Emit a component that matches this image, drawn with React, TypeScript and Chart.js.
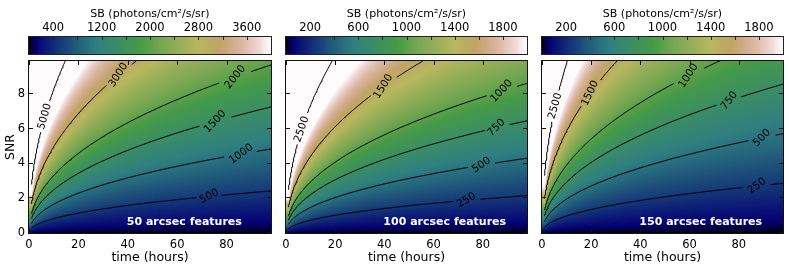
import React, { useEffect, useRef } from 'react';
import { Chart, registerables } from 'chart.js';

Chart.register(...registerables);
Chart.defaults.font.family = "'DejaVu Sans', sans-serif";
Chart.defaults.color = '#000';

// ---- data ----
const TIME_HOURS: number[] = Array.from({ length: 98 }, (_, i) => i + 1);
const SNR_GRID: number[] = Array.from({ length: 100 }, (_, i) => Math.round(i) / 10);
const TIME_EXPONENT = 0.47; // SB ~ SNR / t^0.47
const X_MAX = 98;
const Y_MAX = 9.9;

const FEATURE_LABELS = ['50 arcsec features', '100 arcsec features', '150 arcsec features'];
const SB_AT_UNIT = [1784, 1002, 755]; // SB at SNR = 1, t = 1 h
const SB_MAX = [4000, 2000, 2000];

const LEVELS_50 = [500, 1000, 1500, 2000, 3000, 5000];
const LEVELS_100 = [250, 500, 750, 1000, 1500, 2500];
const LEVELS_150 = [250, 500, 750, 1000, 1500, 2500];
const LABEL_T_50 = [73, 85.9, 75.4, 83.6, 36.2, 6.4];
const LABEL_T_100 = [73.4, 79.5, 85.6, 87.7, 39.6, 6.4];
const LABEL_T_150 = [87.4, 89.4, 76.2, 59.6, 19.6, 5.4];

const CB_LABELS_50 = [400, 1200, 2000, 2800, 3600];
const CB_MARKS_50 = [400, 800, 1200, 1600, 2000, 2400, 2800, 3200, 3600];
const CB_LABELS_100 = [200, 600, 1000, 1400, 1800];
const CB_MARKS_100 = [200, 400, 600, 800, 1000, 1200, 1400, 1600, 1800];

const X_TICKS = [0, 20, 40, 60, 80];
const Y_TICKS = [0, 2, 4, 6, 8];

// label text rotation (degrees, style)
const LABEL_ROT_50 = [27, 36, 47, 52, 57, 74];
const LABEL_ROT_100 = [31, 34, 45, 47, 58, 71];
const LABEL_ROT_150 = [36, 45, 51, 57, 65, 74];

const PANELS = [
  { levels: LEVELS_50, labelT: LABEL_T_50, rot: LABEL_ROT_50, cbLabels: CB_LABELS_50, cbMarks: CB_MARKS_50 },
  { levels: LEVELS_100, labelT: LABEL_T_100, rot: LABEL_ROT_100, cbLabels: CB_LABELS_100, cbMarks: CB_MARKS_100 },
  { levels: LEVELS_150, labelT: LABEL_T_150, rot: LABEL_ROT_150, cbLabels: CB_LABELS_100, cbMarks: CB_MARKS_100 },
];

// layout (pixels)
const CANVAS_LEFT = [0, 276, 531];
const CANVAS_W = [275, 255, 258];
const YAXIS_W = [29, 10, 11];
const PAD_RIGHT = [4, 4, 6];

// ---- gist_earth colormap ----
const GE_R = [[0, 0], [0.2824, 0.1882], [0.4588, 0.2714], [0.549, 0.4719], [0.698, 0.7176], [0.7882, 0.7553], [1, 0.9922]];
const GE_G = [[0, 0], [0.0275, 0], [0.1098, 0.1893], [0.1647, 0.3035], [0.2078, 0.3841], [0.2824, 0.502], [0.5216, 0.6397],
  [0.698, 0.7171], [0.7882, 0.6392], [0.7922, 0.6413], [0.8, 0.6447], [0.8078, 0.6481], [0.8157, 0.6549], [0.8667, 0.6991],
  [0.8745, 0.7103], [0.8824, 0.7216], [0.8902, 0.7323], [0.898, 0.743], [0.9412, 0.8275], [0.9569, 0.8635], [0.9647, 0.8816],
  [0.9961, 0.9733], [1, 0.9843]];
const GE_B = [[0, 0], [0.0039, 0.1684], [0.0078, 0.2212], [0.0275, 0.4329], [0.0314, 0.4549], [0.2824, 0.5004], [0.4667, 0.2748],
  [0.5451, 0.3205], [0.7843, 0.3961], [0.8941, 0.6651], [1, 0.9843]];

function segInterp(tab: number[][], x: number): number {
  for (let i = 1; i < tab.length; i++) {
    if (x <= tab[i][0]) {
      const [x0, y0] = tab[i - 1];
      const [x1, y1] = tab[i];
      return y0 + ((x - x0) / (x1 - x0)) * (y1 - y0);
    }
  }
  return tab[tab.length - 1][1];
}
const LUT: number[][] = Array.from({ length: 256 }, (_, i) => {
  const x = i / 255;
  return [segInterp(GE_R, x) * 255, segInterp(GE_G, x) * 255, segInterp(GE_B, x) * 255].map(Math.round);
});
function cmap(f: number): number[] {
  const k = Math.max(0, Math.min(255, Math.floor(f * 256)));
  return LUT[Math.min(255, k)];
}

// ---- helpers ----
function snrOn(level: number, t: number, c: number) {
  return (level * Math.pow(t, TIME_EXPONENT)) / c;
}

function contourPoints(level: number, c: number) {
  const tTop = Math.pow((Y_MAX * c) / level, 1 / TIME_EXPONENT);
  const tEnd = Math.min(X_MAX, tTop);
  const ts = new Set<number>([TIME_HOURS[0], tEnd]);
  TIME_HOURS.forEach((t) => { if (t > TIME_HOURS[0] && t < tEnd) ts.add(t); });
  SNR_GRID.forEach((s) => {
    const t = Math.pow((s * c) / level, 1 / TIME_EXPONENT);
    if (t > TIME_HOURS[0] && t < tEnd) ts.add(t);
  });
  return [...ts].sort((a, b) => a - b).map((t) => ({ x: t, y: snrOn(level, t, c) }));
}

const LABEL_FONT = "10.5px 'DejaVu Sans', sans-serif";

function labelCenter(chart: any, level: number, tL: number, c: number) {
  const xs = chart.scales.x, ys = chart.scales.y;
  return { x: xs.getPixelForValue(tL), y: ys.getPixelForValue(snrOn(level, tL, c)) };
}

function makeConfig(pi: number): any {
  const panel = PANELS[pi];
  const c = SB_AT_UNIT[pi];
  const vmax = SB_MAX[pi];
  const grid = SNR_GRID.map((s) => TIME_HOURS.map((t) => (c * s) / Math.pow(t, TIME_EXPONENT)));

  const datasets = panel.levels.map((level, di) => ({
    data: contourPoints(level, c),
    xAxisID: 'x',
    yAxisID: 'y',
    showLine: true,
    pointRadius: 0,
    borderWidth: 1,
    borderColor: '#000',
    fill: false,
    tension: 0,
    segment: {
      borderColor: (sc: any) => {
        const g = labelCenter(sc.chart, level, panel.labelT[di], c);
        const mx = (sc.p0.x + sc.p1.x) / 2, my = (sc.p0.y + sc.p1.y) / 2;
        const half = (String(level).length * 6.6) / 2 + 3;
        return Math.hypot(mx - g.x, my - g.y) < half ? 'rgba(0,0,0,0)' : '#000';
      },
    },
  }));

  const plugin = {
    id: 'panelDecor' + pi,
    beforeDatasetsDraw(chart: any) {
      const { ctx, chartArea: a, scales } = chart;
      const xs = scales.x, ys = scales.y, cb = scales.cb;
      // heatmap
      const L = Math.round(a.left), T = Math.round(a.top);
      const W = Math.round(a.right) - L, H = Math.round(a.bottom) - T;
      const off = document.createElement('canvas');
      off.width = W; off.height = H;
      const octx = off.getContext('2d')!;
      const img = octx.createImageData(W, H);
      const nI = SNR_GRID.length - 1, nJ = TIME_HOURS.length - 1;
      for (let py = 0; py < H; py++) {
        const snr = ys.getValueForPixel(T + py + 0.5);
        const fi = Math.max(0, Math.min(nI, snr / 0.1));
        const i0 = Math.floor(fi), i1 = Math.min(nI, i0 + 1), wi = fi - i0;
        for (let px = 0; px < W; px++) {
          const t = xs.getValueForPixel(L + px + 0.5);
          const fj = Math.max(0, Math.min(nJ, t - TIME_HOURS[0]));
          const j0 = Math.floor(fj), j1 = Math.min(nJ, j0 + 1), wj = fj - j0;
          const v = (1 - wi) * ((1 - wj) * grid[i0][j0] + wj * grid[i0][j1]) + wi * ((1 - wj) * grid[i1][j0] + wj * grid[i1][j1]);
          const col = cmap(v / vmax);
          const k = (py * W + px) * 4;
          img.data[k] = col[0]; img.data[k + 1] = col[1]; img.data[k + 2] = col[2]; img.data[k + 3] = 255;
        }
      }
      octx.putImageData(img, 0, 0);
      ctx.drawImage(off, L, T);

      // colorbar
      const cbTop = 37, cbH = 17;
      const cL = Math.round(cb.left), cR = Math.round(cb.right);
      for (let x = cL; x < cR; x++) {
        const v = cb.getValueForPixel(x + 0.5);
        const col = cmap(v / vmax);
        ctx.fillStyle = `rgb(${col[0]},${col[1]},${col[2]})`;
        ctx.fillRect(x, cbTop, 1, cbH);
      }
      ctx.save();
      ctx.strokeStyle = '#222';
      ctx.lineWidth = 1;
      ctx.strokeRect(cL - 0.5, cbTop - 0.5, cR - cL + 1, cbH + 1);
      ctx.beginPath();
      panel.cbMarks.forEach((v) => {
        const x = Math.round(cb.getPixelForValue(v)) + 0.5;
        ctx.moveTo(x, cbTop); ctx.lineTo(x, cbTop + 3);
      });
      ctx.stroke();
      ctx.fillStyle = '#000';
      ctx.font = "11.5px 'DejaVu Sans', sans-serif";
      ctx.textAlign = 'center';
      ctx.textBaseline = 'middle';
      panel.cbLabels.forEach((v) => ctx.fillText(String(v), cb.getPixelForValue(v), 28));
      ctx.font = "11px 'DejaVu Sans', sans-serif";
      ctx.fillText('SB (photons/cm²/s/sr)', (cL + cR) / 2, 14);
      ctx.restore();
    },
    afterDatasetsDraw(chart: any) {
      const { ctx, chartArea: a, scales } = chart;
      const xs = scales.x, ys = scales.y;
      ctx.save();
      // contour labels
      ctx.font = LABEL_FONT;
      ctx.fillStyle = '#000';
      ctx.textAlign = 'center';
      ctx.textBaseline = 'middle';
      panel.levels.forEach((level, di) => {
        const g = labelCenter(chart, level, panel.labelT[di], c);
        ctx.save();
        ctx.translate(g.x, g.y);
        ctx.rotate((-panel.rot[di] * Math.PI) / 180);
        ctx.fillText(String(level), 0, 0);
        ctx.restore();
      });
      // feature text
      ctx.font = "bold 11px 'DejaVu Sans', sans-serif";
      ctx.fillStyle = '#fff';
      ctx.textAlign = 'left';
      ctx.textBaseline = 'alphabetic';
      ctx.fillText(FEATURE_LABELS[pi], xs.getPixelForValue(40) - 1, ys.getPixelForValue(0.45));
      // frame
      ctx.strokeStyle = '#111';
      ctx.lineWidth = 1;
      const L = Math.round(a.left), T = Math.round(a.top), R = Math.round(a.right), B = Math.round(a.bottom);
      ctx.strokeRect(L - 0.5, T - 0.5, R - L + 1, B - T + 1);
      // inward ticks
      ctx.beginPath();
      X_TICKS.forEach((v) => {
        const x = Math.round(xs.getPixelForValue(v)) + 0.5;
        ctx.moveTo(x, B); ctx.lineTo(x, B - 4);
        ctx.moveTo(x, T); ctx.lineTo(x, T + 4);
      });
      Y_TICKS.forEach((v) => {
        const y = Math.round(ys.getPixelForValue(v)) - 0.5;
        ctx.moveTo(L, y); ctx.lineTo(L + 4, y);
        ctx.moveTo(R, y); ctx.lineTo(R - 4, y);
      });
      ctx.stroke();
      ctx.restore();
    },
  };

  return {
    type: 'scatter',
    data: { datasets },
    options: {
      responsive: false,
      animation: false,
      events: [],
      layout: { padding: { top: 61, right: PAD_RIGHT[pi], left: 0, bottom: 0 } },
      plugins: { legend: { display: false }, tooltip: { enabled: false } },
      scales: {
        x: {
          type: 'linear', position: 'bottom', min: 0, max: X_MAX,
          grid: { display: false, drawTicks: false }, border: { display: false },
          ticks: { color: '#000', font: { size: 11.5 }, padding: 5, maxRotation: 0 },
          afterBuildTicks: (s: any) => { s.ticks = X_TICKS.map((v) => ({ value: v })); },
          title: { display: true, text: 'time (hours)', color: '#000', font: { size: 12.5 }, padding: { top: 0, bottom: 3 } },
          afterFit: (s: any) => { s.height = 35; },
        },
        y: {
          type: 'linear', position: 'left', min: 0, max: Y_MAX,
          grid: { display: false, drawTicks: false }, border: { display: false },
          ticks: { display: pi === 0, color: '#000', font: { size: 11.5 }, padding: 4 },
          afterBuildTicks: (s: any) => { s.ticks = Y_TICKS.map((v) => ({ value: v })); },
          title: { display: pi === 0, text: 'SNR', color: '#000', font: { size: 12.5 }, padding: { top: 3, bottom: 0 } },
          afterFit: (s: any) => { s.width = YAXIS_W[pi]; },
        },
        cb: {
          type: 'linear', position: 'top', min: 0, max: vmax,
          grid: { display: false, drawTicks: false }, border: { display: false },
          ticks: { display: false },
          afterFit: (s: any) => { s.height = 0; },
        },
      },
    },
    plugins: [plugin],
  };
}

function Panel({ idx }: { idx: number }) {
  const ref = useRef<HTMLCanvasElement>(null);
  useEffect(() => {
    const chart = new Chart(ref.current!, makeConfig(idx));
    return () => chart.destroy();
  }, [idx]);
  return (
    <canvas
      ref={ref}
      width={CANVAS_W[idx]}
      height={268}
      style={{ position: 'absolute', left: CANVAS_LEFT[idx], top: 0, width: CANVAS_W[idx], height: 268 }}
    />
  );
}

export default function App() {
  return (
    <div style={{ position: 'absolute', left: 0, top: 0, width: 789, height: 268, background: '#fff', overflow: 'hidden' }}>
      {[0, 1, 2].map((i) => <Panel key={i} idx={i} />)}
    </div>
  );
}
